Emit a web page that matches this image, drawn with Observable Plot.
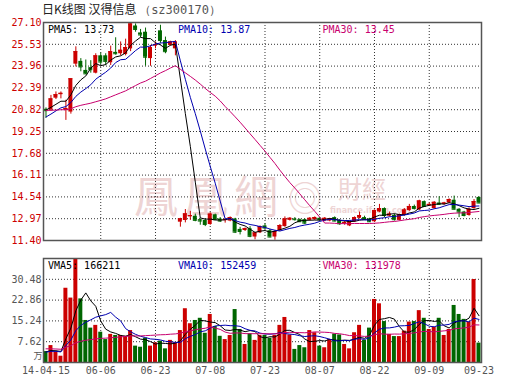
<!DOCTYPE html>
<html><head><meta charset="utf-8">
<script src="https://cdn.jsdelivr.net/npm/d3@7"></script>
<script src="https://cdn.jsdelivr.net/npm/@observablehq/plot@0.6"></script>
<style>
body{margin:0;background:#fff;}
#wrap{position:relative;width:530px;height:391px;overflow:hidden;background:#fff;}
#title{position:absolute;left:42px;top:0px;font-family:"Noto Sans CJK SC";font-size:12px;color:#222;line-height:18px;white-space:nowrap;}
#title .code{font-family:"DejaVu Sans Mono";color:#555;font-size:12px;}
#wm{position:absolute;left:0;top:0;width:530px;height:391px;font-family:"Noto Sans CJK TC";color:#eed4d4;}
#wm span{position:absolute;white-space:nowrap;line-height:1;}
#price,#vol{position:absolute;left:0;}
#price{top:0;}
#vol{top:245px;}
</style></head><body>
<div id="wrap">
<div id="wm">
<span style="left:134px;top:172px;font-size:44px;letter-spacing:6px;">鳳凰網</span>
<span style="left:288px;top:180px;font-size:34px;">◎</span>
<span style="left:338px;top:176px;font-size:24px;">財經</span>
<span style="left:330px;top:207px;font-size:8px;font-family:'DejaVu Sans';font-weight:bold;">finance.ifeng.com</span>
</div>
<div id="price"></div><div id="vol"></div>
<div id="title">日K线图 汉得信息 <span class="code">（sz300170）</span></div>
</div>
<script>
// ---- data ----
const open = [20.85,20.8,21.65,21.9,20.8,20.65,24.1,24.3,23.65,23.85,
 23.45,24.7,24.7,24.2,24.95,24.85,24.8,25.2,26.85,26.35,
 26.4,24.5,25.4,26.5,25.8,25.45,25.2,12.72,12.84,13.1,
 13.15,12.9,12.85,12.55,13.25,12.95,12.85,12.8,12.95,12.2,
 12.12,12.25,11.65,11.95,12.45,12.1,11.65,12.12,12.4,12.85,
 12.95,12.9,12.9,12.85,12.9,13.0,12.8,12.8,13.05,12.85,
 12.6,12.45,12.75,13.0,13.05,12.95,12.75,13.45,13.7,13.15,
 13.2,12.85,13.2,13.55,13.85,13.6,14.2,13.9,13.7,14.1,
 14.0,14.1,14.3,13.65,13.45,13.2,13.7,14.5];
const high = [20.95,21.85,22.1,22.1,21.5,23.05,25.35,24.5,24.4,24.35,
 24.85,24.9,24.85,25.4,26.0,25.7,25.9,27.1,27.0,26.6,
 26.7,25.45,25.7,26.9,26.05,25.75,25.8,13.0,13.63,13.5,
 13.3,12.95,12.95,13.4,13.3,13.05,13.0,13.1,13.0,12.35,
 12.3,12.4,11.95,12.45,12.6,12.2,12.1,12.55,13.1,13.05,
 13.05,12.95,12.95,13.05,13.1,13.05,13.05,13.0,13.1,12.9,
 12.8,12.8,13.1,13.45,13.15,13.0,13.6,14.0,13.75,13.45,
 13.3,13.3,13.7,14.0,13.95,14.3,14.25,14.1,14.2,14.55,
 14.15,14.4,14.6,13.7,13.5,13.75,14.35,14.55];
const low = [20.2,20.7,21.55,21.6,20.05,20.5,23.9,23.55,23.35,23.45,
 23.4,24.05,24.0,24.0,24.75,24.7,24.7,25.0,26.4,26.0,
 23.95,23.95,25.2,25.6,24.85,25.4,24.7,12.36,12.67,12.85,
 12.75,12.5,12.4,12.5,12.85,12.7,12.65,12.75,11.9,11.8,
 12.05,11.6,11.45,11.9,12.2,11.6,11.42,12.05,12.35,12.8,
 12.8,12.7,12.55,12.8,12.85,12.85,12.75,12.75,12.75,12.5,
 12.5,12.4,12.7,12.95,12.85,12.7,12.7,13.4,13.05,13.1,
 12.8,12.8,13.15,13.5,13.6,13.55,13.8,13.85,13.65,13.95,
 13.95,14.05,13.6,13.05,13.1,13.15,13.65,14.05];
const close = [20.75,21.6,21.9,22.0,20.9,23.05,25.0,23.9,23.4,23.7,
 24.7,24.25,24.3,25.0,24.85,25.1,25.3,27.0,26.6,26.2,
 24.6,25.3,25.5,25.8,25.0,25.7,25.7,12.96,13.32,13.2,
 12.85,12.8,12.55,13.3,12.9,12.8,12.9,13.05,12.0,12.05,
 12.25,11.7,11.95,12.4,12.3,11.65,12.05,12.48,12.95,13.0,
 12.9,12.75,12.65,13.0,13.05,12.9,13.0,12.95,12.8,12.6,
 12.7,12.75,13.05,13.2,12.9,12.75,13.55,13.7,13.2,13.3,
 12.9,13.25,13.6,13.85,13.7,14.25,13.85,14.0,14.15,14.0,
 14.1,14.35,13.65,13.45,13.2,13.65,14.2,14.1];
// volume in 万
const volume = [4.0,6.2,3.8,2.3,27.2,23.6,38.0,23.3,15.4,12.6,
 13.6,11.1,8.4,10.3,9.9,9.9,9.6,11.7,6.0,5.6,
 8.9,6.0,7.2,7.8,5.0,8.1,7.2,11.7,19.7,14.2,
 15.4,16.2,10.7,17.6,13.2,9.6,8.4,9.9,19.4,12.1,
 6.6,10.5,8.1,9.9,9.9,8.9,9.9,13.6,16.5,10.1,
 4.8,6.2,5.4,11.7,10.9,6.0,5.4,8.4,10.4,10.1,
 6.6,5.0,10.9,13.6,8.1,12.6,23.1,21.5,15.0,10.3,
 9.5,9.5,11.5,14.8,15.0,19.0,16.2,12.1,12.9,16.2,
 9.9,12.1,20.9,17.6,15.8,14.8,30.4,7.1];
// sessions before the first visible bar (only feed the moving averages)
const priorClose = [21.3,21.5,21.2,21.0,20.8,20.6,20.9,21.1,21.4,21.6,
 21.3,21.0,20.7,20.5,20.8,21.0,21.2,20.9,20.7,20.6,
 19.5,19.6,19.8,20.0,20.1,20.6,20.8,20.9,20.9];
const priorVolume = [6.2,5.8,5.1,4.9,6.5,7.0,5.4,4.8,5.2,6.0,
 5.5,5.9,6.3,5.0,4.6,5.3,5.8,6.1,5.4,5.5,
 3.5,3.9,4.2,3.6,3.4,3.8,4.1,3.7,3.9];
const tickIndex  = [0, 11, 22, 33, 44, 55, 66, 77, 87];
const tickLabels = ["14-04-15","06-06","06-23","07-08","07-23","08-07","08-22","09-09","09-23"];
const priceTicks  = [11.40,12.97,14.54,16.11,17.68,19.25,20.82,22.39,23.96,25.53,27.10];
const volumeTicks = [0, 7.62, 15.24, 22.86, 30.48, 38.10];
const maNames  = ["MA5","MA10","MA30"];
const maPeriods = [5, 10, 30];
const priceLegend  = ["13.73","13.87","13.45"];
const volumeLegend = ["166211","152459","131978"];

// ---- styling ----
const RED = "#cc0000", GREEN = "#006600";
const MA_COLORS = ["#000000", "#0000b0", "#c8006e"];
const LEG_DX = [4.5, 134.5, 279];
const MONO = "DejaVu Sans Mono";

const N = close.length;
const P = priorClose.length;
const idx = d3.range(N);
const bars = idx.map(i => ({i, o: open[i], h: high[i], l: low[i], c: close[i], v: volume[i],
  col: close[i] >= open[i] ? RED : GREEN}));
function movingAvg(prior, vals, n) {
  const all = prior.concat(vals);
  return idx.map(i => ({i, v: d3.mean(all.slice(P + i - n + 1, P + i + 1))}));
}
const priceMA = maPeriods.map(n => movingAvg(priorClose, close, n));
const volMA = maPeriods.map(n => movingAvg(priorVolume, volume, n));
const labelOf = new Map(tickIndex.map((d, k) => [d, tickLabels[k]]));
const innerX = tickIndex.slice(1, -1);
const HW = 0.4;
const dotted = {stroke: "#333", strokeOpacity: 1, strokeDasharray: "1,2", strokeWidth: 1};

const pricePlot = Plot.plot({
  width: 530, height: 245, marginLeft: 43, marginRight: 49, marginTop: 22, marginBottom: 5,
  style: {fontFamily: MONO, fontSize: "10px", background: "transparent", overflow: "visible"},
  x: {domain: [-0.5, N - 0.5], axis: null},
  y: {domain: [priceTicks[0], priceTicks[priceTicks.length - 1]], axis: null},
  color: {type: "identity"},
  marks: [
    Plot.gridY(priceTicks.slice(1, -1), dotted),
    Plot.gridX(innerX, dotted),
    Plot.axisY(priceTicks, {tickSize: 0, tickPadding: 2, fill: RED, fontSize: 10, label: null, tickFormat: d => d.toFixed(2)}),
    Plot.ruleX(bars, {x: "i", y1: "l", y2: "h", stroke: "col", strokeWidth: 1}),
    Plot.rect(bars, {x1: d => d.i - HW, x2: d => d.i + HW, y1: "o", y2: "c", fill: "col"}),
    Plot.ruleY(bars, {x1: d => d.i - HW, x2: d => d.i + HW, y: "c", stroke: "col"}),
    ...priceMA.map((m, k) => Plot.line(m, {x: "i", y: "v", stroke: MA_COLORS[k], strokeWidth: 1})),
    Plot.frame({stroke: "#555", strokeWidth: 1.5}),
    ...maNames.map((nm, k) => Plot.text([`P${nm}: ${priceLegend[k]}`], {
      frameAnchor: "top-left", dx: LEG_DX[k], dy: 3, textAnchor: "start", lineAnchor: "top",
      fill: MA_COLORS[k], fontSize: 10, fontFamily: MONO}))
  ]
});
document.getElementById("price").append(pricePlot);

const volPlot = Plot.plot({
  width: 530, height: 146, marginLeft: 43, marginRight: 49, marginTop: 13, marginBottom: 29,
  style: {fontFamily: MONO, fontSize: "10px", background: "transparent", overflow: "visible"},
  x: {domain: [-0.5, N - 0.5], axis: null},
  y: {domain: [volumeTicks[0], volumeTicks[volumeTicks.length - 1]], axis: null},
  color: {type: "identity"},
  marks: [
    Plot.gridY(volumeTicks.slice(1, -1), dotted),
    Plot.gridX(innerX, dotted),
    Plot.axisY(volumeTicks.slice(1, -1), {tickSize: 0, tickPadding: 2, fill: "#555", fontSize: 10, label: null, tickFormat: d => d.toFixed(2)}),
    Plot.text(["万"], {frameAnchor: "bottom-left", dx: -1, dy: -4, textAnchor: "end", lineAnchor: "bottom",
      fill: "#555", fontSize: 9, fontFamily: "Noto Sans CJK SC"}),
    Plot.axisX(tickIndex, {tickSize: 0, tickPadding: 4, fill: "#555", fontSize: 10, label: null, tickFormat: d => labelOf.get(d)}),
    Plot.rect(bars, {x1: d => d.i - HW, x2: d => d.i + HW, y1: 0, y2: "v", fill: "col"}),
    ...volMA.map((m, k) => Plot.line(m, {x: "i", y: "v", stroke: MA_COLORS[k], strokeWidth: 1})),
    Plot.frame({stroke: "#555", strokeWidth: 1.5}),
    ...maNames.map((nm, k) => Plot.text([`V${nm}: ${volumeLegend[k]}`], {
      frameAnchor: "top-left", dx: LEG_DX[k], dy: 3, textAnchor: "start", lineAnchor: "top",
      fill: MA_COLORS[k], fontSize: 10, fontFamily: MONO}))
  ]
});
document.getElementById("vol").append(volPlot);
</script>
</body></html>
